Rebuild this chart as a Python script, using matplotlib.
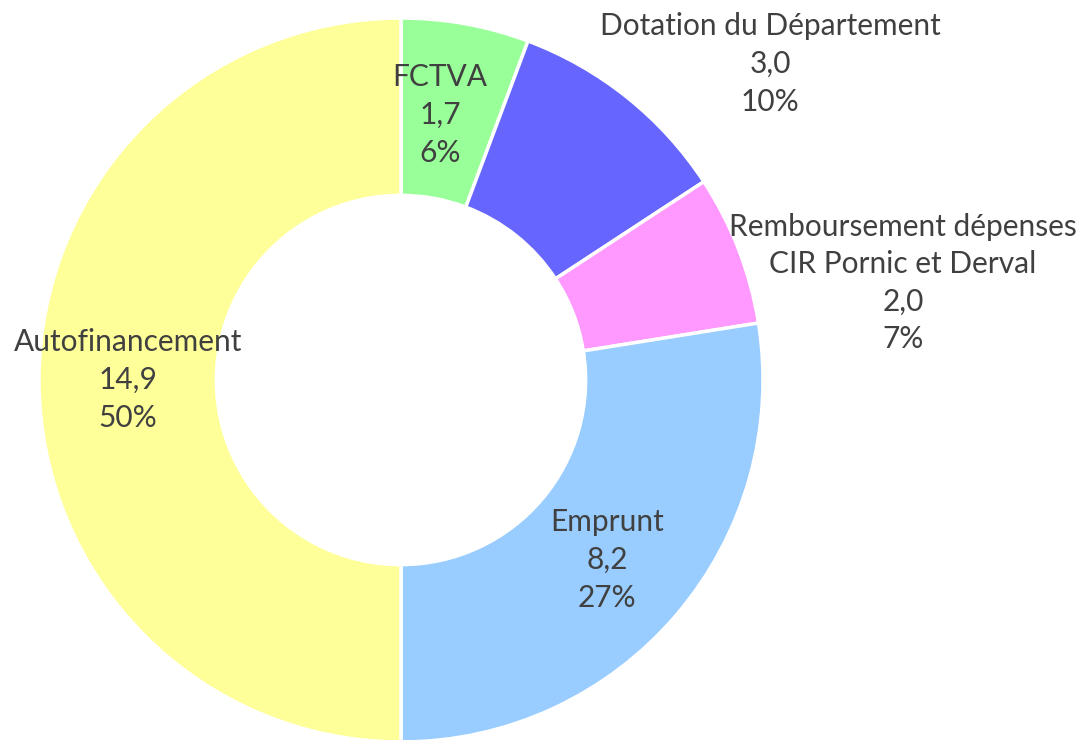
import matplotlib
matplotlib.use("Agg")
import matplotlib.pyplot as plt

# Data (millions), clockwise from the top
labels = ["FCTVA", "Dotation du Département", "Remboursement dépenses\nCIR Pornic et Derval",
          "Emprunt", "Autofinancement"]
values = [1.7, 3.0, 2.0, 8.2, 14.9]
value_labels = ["1,7", "3,0", "2,0", "8,2", "14,9"]
pct_labels = ["6%", "10%", "7%", "27%", "50%"]
colors = ["#99FF99", "#6666FF", "#FF99FF", "#99CCFF", "#FFFF99"]

# label centres in pixel coordinates of the reference (x, y from top)
label_px = [(440, 115), (770, 64), (903, 283), (607, 560), (128, 380)]

W, H = 1081, 740
cx, cy, R = 401, 380, 362

fig = plt.figure(figsize=(W / 100, H / 100), dpi=100)
ax = fig.add_axes([0, 0, 1, 1])

ax.pie(values, colors=colors, startangle=90, counterclock=False, radius=1,
       wedgeprops=dict(width=0.49, edgecolor="white", linewidth=2.5))

ax.set_xlim(-cx / R, (W - cx) / R)
ax.set_ylim((cy - H) / R, cy / R)
ax.set_aspect("auto")
ax.axis("off")

for lab, v, p, (px, py) in zip(labels, value_labels, pct_labels, label_px):
    x = (px - cx) / R
    y = (cy - py) / R
    ax.text(x, y, f"{lab}\n{v}\n{p}", ha="center", va="center", fontsize=21.5,
            family="Lato", color="#404040", linespacing=1.42)

fig.savefig("out.png", dpi=100)
